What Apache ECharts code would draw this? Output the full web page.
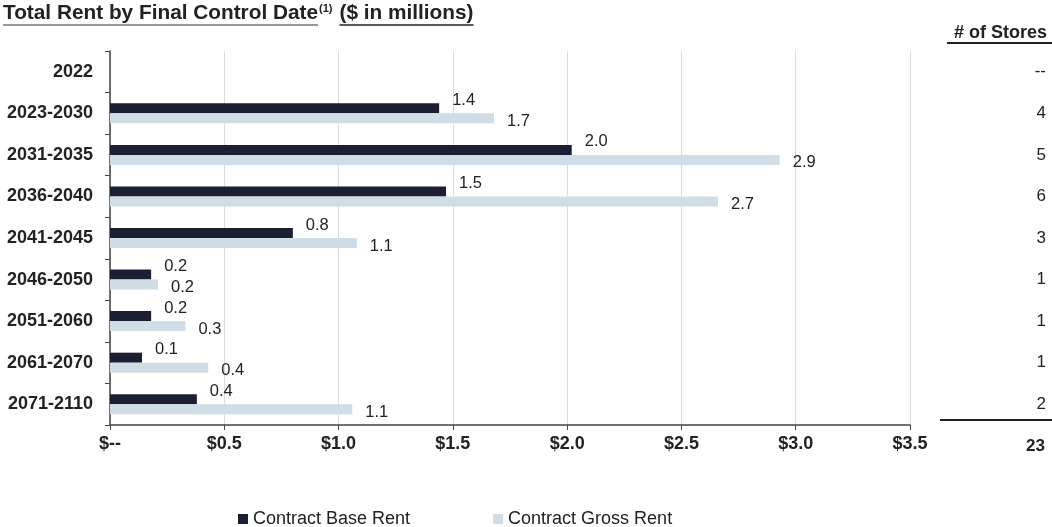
<!DOCTYPE html>
<html>
<head>
<meta charset="utf-8">
<script src="https://cdn.jsdelivr.net/npm/echarts@6/dist/echarts.min.js"></script>
<style>
    html, body { margin: 0; padding: 0; background: #fff; }
    #main { width: 1052px; height: 527px; }
</style>
</head>
<body>
<div id="main"></div>
<script>
// data
var categories = ['2022', '2023-2030', '2031-2035', '2036-2040', '2041-2045', '2046-2050', '2051-2060', '2061-2070', '2071-2110'];
var baseRent  = [null, 1.44, 2.02, 1.47, 0.80, 0.18, 0.18, 0.14, 0.38];
var grossRent = [null, 1.68, 2.93, 2.66, 1.08, 0.21, 0.33, 0.43, 1.06];
var stores    = ['--', '4', '5', '6', '3', '1', '1', '1', '2'];
var xTicks    = [0, 0.5, 1.0, 1.5, 2.0, 2.5, 3.0, 3.5];

var FONT = 'Liberation Sans, Arial, sans-serif';
var DARK = '#1c1f33';
var LIGHT = '#d0dde6';

var total = 0;
stores.forEach(function (s) { if (!isNaN(+s)) total += +s; });

// measure title pieces so the underlines fit
var ctx = document.createElement('canvas').getContext('2d');
ctx.font = 'bold 20.8px ' + FONT;
var t1 = 'Total Rent by Final Control Date';
var t2 = '($ in millions)';
var w1 = ctx.measureText(t1).width;
var w2 = ctx.measureText(t2).width;
ctx.font = 'bold 11px ' + FONT;
var wSup = ctx.measureText('(1)').width;
var x1 = 3, xSup = x1 + w1 + 1, x2 = xSup + wSup + 7;

var chart = echarts.init(document.getElementById('main'));

var valueLabel = {
    show: true,
    position: 'right',
    distance: 13,
    fontFamily: FONT,
    fontSize: 16.5,
    color: '#222',
    formatter: function (p) { return p.value == null ? '' : p.value.toFixed(1); }
};

var option = {
    animation: false,
    grid: { left: 110, right: 142, top: 51, bottom: 102 },
    legend: {
        left: 238,
        top: 510,
        padding: 0,
        itemWidth: 10,
        itemHeight: 10,
        itemGap: 83,
        icon: 'rect',
        textStyle: { fontFamily: FONT, fontSize: 18, color: '#222' },
        data: ['Contract Base Rent', 'Contract Gross Rent']
    },
    xAxis: {
        type: 'value',
        min: 0,
        max: 3.5,
        interval: 0.5,
        axisLine: { show: true, lineStyle: { color: '#444', width: 1.5 } },
        axisTick: { show: true, length: 5, lineStyle: { color: '#444' } },
        splitLine: { show: true, lineStyle: { color: '#dcdcdc', width: 1 } },
        axisLabel: {
            margin: 10,
            fontFamily: FONT,
            fontSize: 18,
            fontWeight: 'bold',
            color: '#222',
            formatter: function (v) {
                var i = xTicks.indexOf(v);
                if (i < 0) return '';
                return v === 0 ? '$--' : '$' + v.toFixed(1);
            }
        }
    },
    yAxis: [{
        type: 'category',
        inverse: true,
        data: categories,
        axisLine: { show: true, lineStyle: { color: '#444', width: 1.5 } },
        axisTick: { show: true, length: 5, lineStyle: { color: '#444' } },
        axisLabel: {
            margin: 17,
            fontFamily: FONT,
            fontSize: 18,
            fontWeight: 'bold',
            color: '#222'
        }
    }, {
        type: 'category',
        inverse: true,
        position: 'right',
        data: stores,
        axisLine: { show: false },
        axisTick: { show: false },
        splitLine: { show: false },
        axisLabel: {
            margin: 136,
            align: 'right',
            fontFamily: FONT,
            fontSize: 17,
            color: '#222'
        }
    }],
    series: [{
        name: 'Contract Base Rent',
        type: 'bar',
        data: baseRent,
        barWidth: 10,
        barGap: '0%',
        itemStyle: { color: DARK },
        label: Object.assign({}, valueLabel, { offset: [0, -8] })
    }, {
        name: 'Contract Gross Rent',
        type: 'bar',
        data: grossRent,
        barWidth: 10,
        itemStyle: { color: LIGHT },
        label: Object.assign({}, valueLabel, { offset: [0, 3] })
    }],
    graphic: [
        // title
        { type: 'text', left: x1, top: 3, style: { text: t1, font: 'bold 20.8px ' + FONT, fill: '#222' } },
        { type: 'text', left: xSup, top: 3, style: { text: '(1)', font: 'bold 11px ' + FONT, fill: '#222' } },
        { type: 'text', left: x2, top: 3, style: { text: t2, font: 'bold 20.8px ' + FONT, fill: '#222' } },
        { type: 'line', shape: { x1: x1, y1: 25, x2: x1 + w1, y2: 25 }, style: { stroke: '#777', lineWidth: 1.5 } },
        { type: 'line', shape: { x1: x2, y1: 25, x2: x2 + w2, y2: 25 }, style: { stroke: '#222', lineWidth: 1.5 } },
        // stores column
        { type: 'text', right: 5, top: 24, style: { text: '# of Stores', font: 'bold 18px ' + FONT, fill: '#222' } },
        { type: 'line', shape: { x1: 947, y1: 43, x2: 1052, y2: 43 }, style: { stroke: '#222', lineWidth: 2 } },
        { type: 'line', shape: { x1: 940, y1: 420, x2: 1052, y2: 420 }, style: { stroke: '#222', lineWidth: 2 } },
        { type: 'text', right: 7, top: 438, style: { text: String(total), font: 'bold 17px ' + FONT, fill: '#222' } }
    ]
};

chart.setOption(option);
</script>
</body>
</html>
